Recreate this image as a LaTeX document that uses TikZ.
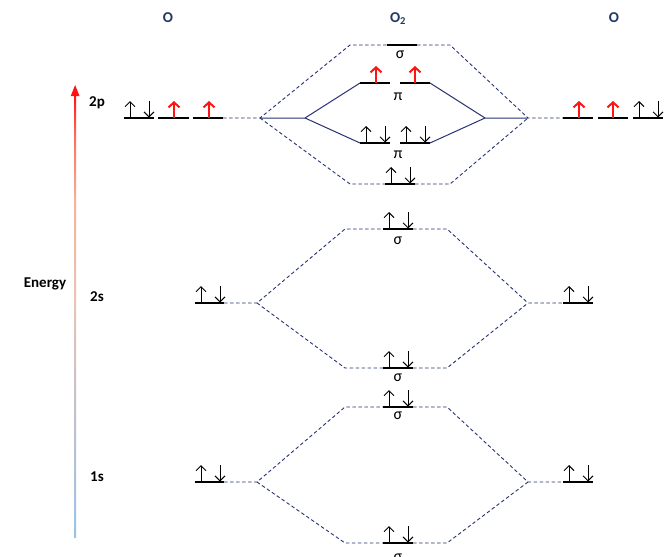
\documentclass[tikz,border=0pt]{standalone}
\usepackage{fontspec}
\setmainfont{Carlito}
\usetikzlibrary{arrows.meta}
\definecolor{hdr}{RGB}{31,56,100}
\definecolor{lnav}{RGB}{40,50,115}
\definecolor{ered}{RGB}{255,20,20}
\definecolor{eA}{RGB}{153,194,230}
\definecolor{eB}{RGB}{192,192,204}
\definecolor{eC}{RGB}{232,196,182}
\definecolor{eD}{RGB}{246,178,150}
\definecolor{eE}{RGB}{250,110,90}
\tikzset{
  lvl/.style={line width=2pt, black},
  dsh/.style={draw=lnav, dash pattern=on 3.5pt off 2.5pt, line width=0.9pt},
  sol/.style={draw=lnav, line width=1pt},
  bk/.style={line width=0.9pt, black, -{Straight Barb[length=5pt,width=10pt,line width=0.9pt]}},
  rd/.style={line width=2pt, ered, -{Straight Barb[length=5pt,width=11pt,line width=2pt]}},
  hd/.style={font=\fontsize{15}{17}\selectfont\bfseries, text=hdr},
  lb/.style={font=\fontsize{15}{17}\selectfont\bfseries, text=black},
  gk/.style={font=\fontsize{16}{18}\selectfont, text=black, inner sep=0pt}
}
\newcommand\pairarr[2]{%
  \draw[bk] (#1+6,#2) -- (#1+6,#2-17);
  \draw[bk] (#1+25,#2-17) -- (#1+25,#2-0.5);}
\newcommand\redup[2]{\draw[rd] (#1,#2) -- (#1,#2-17);}
\begin{document}
\begin{tikzpicture}[x=1pt,y=-1pt]
\useasboundingbox (0,0) rectangle (667,557);
% headers
\node[hd] (hL) at (168,18) {O};
\node[hd] (hM) at (398,19) {O\textsubscript{2}};
\node[hd] (hR) at (614,18) {O};
% energy axis
\shade[bottom color=eA, top color=eB] (74,537) rectangle (76.2,420);
\shade[bottom color=eB, top color=eC] (74,420.3) rectangle (76.2,300);
\shade[bottom color=eC, top color=eD] (74,300.3) rectangle (76.2,200);
\shade[bottom color=eD, top color=eE] (74,200.3) rectangle (76.2,135);
\shade[bottom color=eE, top color=ered] (74,135.3) rectangle (76.2,95);
\fill[ered] (75.1,85) -- (79.5,96) -- (70.7,96) -- cycle;
\node[lb] (en) at (45,284) {Energy};
\node[lb] (l2p) at (97,103) {2p};
\node[lb] (l2s) at (97,297) {2s};
\node[lb] (l1s) at (97,477) {1s};
% coordinates
\coordinate (a2pe) at (223,118); \coordinate (LJ2p) at (260,118); \coordinate (LP) at (305,118);
\coordinate (b2pe) at (563,118); \coordinate (RJ2p) at (528,118); \coordinate (RP) at (485,118);
\coordinate (ss2pL) at (350,45); \coordinate (ss2pR) at (450,45);
\coordinate (s2pL) at (350,184); \coordinate (s2pR) at (450,184);
\coordinate (a2se) at (224,303); \coordinate (LJ2s) at (257,303);
\coordinate (b2se) at (563,303); \coordinate (RJ2s) at (528,303);
\coordinate (ss2sL) at (345,229); \coordinate (ss2sR) at (447,229);
\coordinate (s2sL) at (345,368); \coordinate (s2sR) at (447,368);
\coordinate (a1se) at (224,482); \coordinate (LJ1s) at (257,482);
\coordinate (b1se) at (563,482); \coordinate (RJ1s) at (528,482);
\coordinate (ss1sL) at (345,407); \coordinate (ss1sR) at (447,407);
\coordinate (s1sL) at (345,543); \coordinate (s1sR) at (447,543);
% levels (start/end coordinates)
\coordinate (pssA) at (387,45); \coordinate (pssB) at (417,45);
\coordinate (pi1A) at (360,83); \coordinate (pi1B) at (390,83);
\coordinate (pi2A) at (400,83); \coordinate (pi2B) at (430,83);
\coordinate (pb1A) at (360,143); \coordinate (pb1B) at (390,143);
\coordinate (pb2A) at (400,143); \coordinate (pb2B) at (430,143);
\coordinate (ps2A) at (385,184); \coordinate (ps2B) at (415,184);
\coordinate (qssA) at (383,229); \coordinate (qssB) at (413,229);
\coordinate (qsA) at (383,368); \coordinate (qsB) at (413,368);
\coordinate (rssA) at (383,407); \coordinate (rssB) at (413,407);
\coordinate (rsA) at (383,543); \coordinate (rsB) at (413,543);
% dashed connectors 2p
\draw[dsh] (a2pe) -- (LJ2p) -- (ss2pL) -- (pssA);
\draw[dsh] (pssB) -- (ss2pR) -- (RJ2p) -- (b2pe);
\draw[dsh] (LJ2p) -- (s2pL) -- (ps2A);
\draw[dsh] (ps2B) -- (s2pR) -- (RJ2p);
% solid pi connectors
\draw[sol] (LJ2p) -- (LP) -- (pi1A);
\draw[sol] (LP) -- (pb1A);
\draw[sol] (RJ2p) -- (RP) -- (pi2B);
\draw[sol] (RP) -- (pb2B);
% 2s
\draw[dsh] (a2se) -- (LJ2s) -- (ss2sL) -- (qssA);
\draw[dsh] (LJ2s) -- (s2sL) -- (qsA);
\draw[dsh] (qssB) -- (ss2sR) -- (RJ2s) -- (b2se);
\draw[dsh] (qsB) -- (s2sR) -- (RJ2s);
% 1s
\draw[dsh] (a1se) -- (LJ1s) -- (ss1sL) -- (rssA);
\draw[dsh] (LJ1s) -- (s1sL) -- (rsA);
\draw[dsh] (rssB) -- (ss1sR) -- (RJ1s) -- (b1se);
\draw[dsh] (rsB) -- (s1sR) -- (RJ1s);
% level lines
\foreach \xa/\xb/\y in {124/154/118,158/189/118,193/223/118,
  563/593/118,598/628/118,633/663/118,
  195/224/303,563/593/303,195/224/482,563/593/482}
  \draw[lvl] (\xa,\y) -- (\xb,\y);
\draw[lvl] (pssA) -- (pssB);
\draw[lvl] (pi1A) -- (pi1B); \draw[lvl] (pi2A) -- (pi2B);
\draw[lvl] (pb1A) -- (pb1B); \draw[lvl] (pb2A) -- (pb2B);
\draw[lvl] (ps2A) -- (ps2B);
\draw[lvl] (qssA) -- (qssB); \draw[lvl] (qsA) -- (qsB);
\draw[lvl] (rssA) -- (rssB); \draw[lvl] (rsA) -- (rsB);
% electrons
\pairarr{124}{118} \redup{174}{118} \redup{209}{118}
\redup{579}{118} \redup{613}{118} \pairarr{633}{118}
\redup{376}{83} \redup{415}{83}
\pairarr{360}{143} \pairarr{400}{143}
\pairarr{385}{184}
\pairarr{383}{229} \pairarr{383}{368}
\pairarr{195}{303} \pairarr{563}{303}
\pairarr{383}{407} \pairarr{383}{543}
\pairarr{195}{482} \pairarr{563}{482}
% labels
\node[gk] (gs1) at (400,55) {σ};
\node[gk] (gp1) at (398,97) {π};
\node[gk] (gp2) at (398,155) {π};
\node[gk] (gs2) at (398,241) {σ};
\node[gk] (gs3) at (398,378) {σ};
\node[gk] (gs4) at (398,416) {σ};
\node[gk] (gs5) at (398,558) {σ};
\end{tikzpicture}
\end{document}
